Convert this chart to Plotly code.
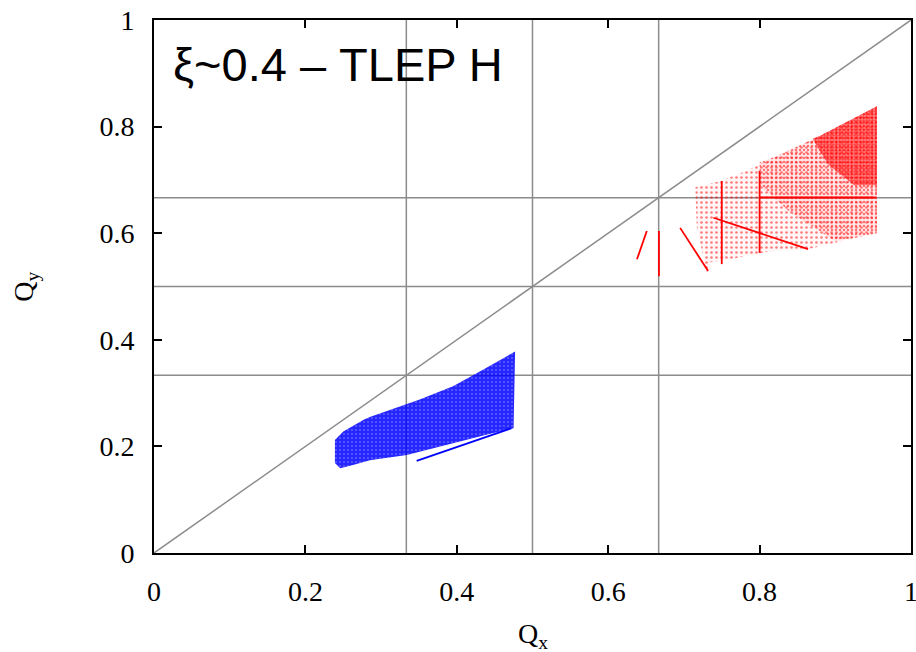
import plotly.graph_objects as go

# Tune footprint outlines (Qx, Qy) for the two beams
red_qx = [0.715, 0.748, 0.783, 0.823, 0.880, 0.955, 0.955, 0.864, 0.814, 0.761, 0.734, 0.730, 0.717]
red_qy = [0.686, 0.698, 0.717, 0.745, 0.783, 0.838, 0.601, 0.570, 0.566, 0.551, 0.545, 0.526, 0.613]

# Denser part of the red footprint (large-amplitude corner)
red_mid_qx = [0.800, 0.823, 0.880, 0.955, 0.955, 0.900, 0.840, 0.800]
red_mid_qy = [0.733, 0.745, 0.783, 0.838, 0.600, 0.585, 0.640, 0.690]
red_core_qx = [0.870, 0.880, 0.955, 0.955, 0.925, 0.890]
red_core_qy = [0.777, 0.783, 0.838, 0.690, 0.690, 0.730]

blue_qx = [0.477, 0.431, 0.395, 0.351, 0.285, 0.277, 0.250, 0.239, 0.239, 0.246, 0.263, 0.285, 0.334, 0.395, 0.439, 0.475]
blue_qy = [0.378, 0.341, 0.313, 0.288, 0.255, 0.250, 0.228, 0.212, 0.169, 0.159, 0.165, 0.174, 0.184, 0.206, 0.222, 0.234]

# Resonance streaks inside the footprints: (qx0, qy0, qx1, qy1)
red_streaks = [
    (0.800, 0.667, 0.953, 0.667),
    (0.739, 0.629, 0.864, 0.570),
    (0.800, 0.717, 0.800, 0.563),
    (0.750, 0.698, 0.750, 0.542),
    (0.667, 0.604, 0.667, 0.519),
    (0.651, 0.604, 0.638, 0.551),
    (0.695, 0.610, 0.732, 0.529),
]
blue_streaks = [
    (0.347, 0.173, 0.472, 0.234),
]

# Resonance grid lines
grid_q = [1 / 3, 1 / 2, 2 / 3]
tick_vals = [0, 0.2, 0.4, 0.6, 0.8, 1]
tick_text = ["0", "0.2", "0.4", "0.6", "0.8", "1"]

fig = go.Figure()

grid_color = "#8c8c8c"
for q in grid_q:
    fig.add_shape(type="line", x0=q, x1=q, y0=0, y1=1, xref="x", yref="y",
                  line=dict(color=grid_color, width=1.5), layer="below")
    fig.add_shape(type="line", x0=0, x1=1, y0=q, y1=q, xref="x", yref="y",
                  line=dict(color=grid_color, width=1.5), layer="below")
fig.add_shape(type="line", x0=0, y0=0, x1=1, y1=1, xref="x", yref="y",
              line=dict(color=grid_color, width=1.5), layer="below")


def footprint(qx, qy, base, dot, size, solidity):
    return go.Scatter(
        x=qx + qx[:1], y=qy + qy[:1], mode="none", fill="toself",
        fillcolor=base,
        fillpattern=dict(shape=".", fgcolor=dot, size=size, solidity=solidity,
                         fillmode="overlay"),
        hoverinfo="skip", showlegend=False)


fig.add_trace(footprint(red_qx, red_qy, "rgba(255,0,0,0.03)", "#ff0000", 5, 0.22))
fig.add_trace(footprint(red_mid_qx, red_mid_qy, "rgba(255,0,0,0.06)", "#ff0000", 4, 0.3))
fig.add_trace(footprint(red_core_qx, red_core_qy, "rgba(255,0,0,0.4)", "#ff0000", 3, 0.5))
fig.add_trace(footprint(blue_qx, blue_qy, "rgba(0,0,255,0.85)", "#ffffff", 4, 0.12))

for streaks, col in ((red_streaks, "#ff0000"), (blue_streaks, "#0000ff")):
    for x0, y0, x1, y1 in streaks:
        fig.add_trace(go.Scatter(x=[x0, x1], y=[y0, y1], mode="lines",
                                 line=dict(color=col, width=1.8),
                                 hoverinfo="skip", showlegend=False))

serif = "Liberation Serif, Times New Roman, serif"
axis_common = dict(
    range=[0, 1], tickvals=tick_vals, ticktext=tick_text,
    ticks="inside", ticklen=8, tickwidth=1.5, tickcolor="black",
    showline=True, linecolor="black", linewidth=2, mirror="ticks",
    showgrid=False, zeroline=False, automargin=False, ticklabeloverflow="allow",
    tickfont=dict(family=serif, size=28, color="black"),
)
fig.update_xaxes(**axis_common, ticklabelstandoff=12)
fig.update_yaxes(**axis_common, ticklabelstandoff=12)

fig.add_annotation(text="Q<sub>x</sub>", xref="paper", yref="paper", x=0.5, y=-0.118,
                   xanchor="center", yanchor="top", showarrow=False,
                   font=dict(family=serif, size=28, color="black"))
fig.add_annotation(text="Q<sub>y</sub>", xref="paper", yref="paper", x=-0.17, y=0.5,
                   xanchor="center", yanchor="middle", showarrow=False, textangle=-90,
                   font=dict(family=serif, size=28, color="black"))
fig.add_annotation(text="ξ~0.4 – TLEP H", xref="x", yref="y", x=0.022, y=0.917,
                   xanchor="left", yanchor="middle", showarrow=False,
                   font=dict(family="Liberation Sans, Arial, sans-serif", size=47, color="black"))

fig.update_layout(
    width=916, height=652,
    margin=dict(l=154, r=5, t=20, b=99),
    paper_bgcolor="white", plot_bgcolor="white",
)

fig.write_html("out.html")
